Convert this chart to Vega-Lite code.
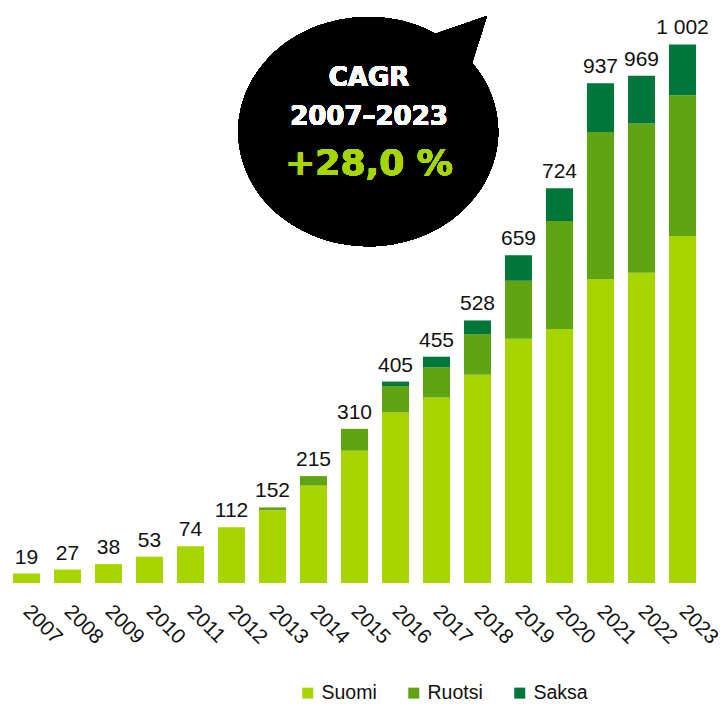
{
  "$schema": "https://vega.github.io/schema/vega-lite/v6.json",
  "autosize": "none",
  "width": 697,
  "height": 547,
  "padding": {"left": 6, "top": 36, "right": 22, "bottom": 121},
  "background": "white",
  "config": {
    "view": {"stroke": null},
    "font": "Liberation Sans"
  },
  "datasets": {
    "seriesOrder": [
      {"series": "Suomi", "rank": 1},
      {"series": "Ruotsi", "rank": 2},
      {"series": "Saksa", "rank": 3}
    ]
  },
  "data": {
    "values": [
      {"year": "2007", "series": "Suomi", "value": 19, "label": "19"},
      {"year": "2008", "series": "Suomi", "value": 27, "label": "27"},
      {"year": "2009", "series": "Suomi", "value": 38, "label": "38"},
      {"year": "2010", "series": "Suomi", "value": 53, "label": "53"},
      {"year": "2011", "series": "Suomi", "value": 74, "label": "74"},
      {"year": "2012", "series": "Suomi", "value": 112, "label": "112"},
      {"year": "2013", "series": "Suomi", "value": 146, "label": "152"},
      {"year": "2013", "series": "Ruotsi", "value": 6, "label": "152"},
      {"year": "2014", "series": "Suomi", "value": 196, "label": "215"},
      {"year": "2014", "series": "Ruotsi", "value": 19, "label": "215"},
      {"year": "2015", "series": "Suomi", "value": 266, "label": "310"},
      {"year": "2015", "series": "Ruotsi", "value": 44, "label": "310"},
      {"year": "2016", "series": "Suomi", "value": 343, "label": "405"},
      {"year": "2016", "series": "Ruotsi", "value": 53, "label": "405"},
      {"year": "2016", "series": "Saksa", "value": 9, "label": "405"},
      {"year": "2017", "series": "Suomi", "value": 373, "label": "455"},
      {"year": "2017", "series": "Ruotsi", "value": 61, "label": "455"},
      {"year": "2017", "series": "Saksa", "value": 21, "label": "455"},
      {"year": "2018", "series": "Suomi", "value": 419, "label": "528"},
      {"year": "2018", "series": "Ruotsi", "value": 81, "label": "528"},
      {"year": "2018", "series": "Saksa", "value": 28, "label": "528"},
      {"year": "2019", "series": "Suomi", "value": 491, "label": "659"},
      {"year": "2019", "series": "Ruotsi", "value": 117, "label": "659"},
      {"year": "2019", "series": "Saksa", "value": 51, "label": "659"},
      {"year": "2020", "series": "Suomi", "value": 511, "label": "724"},
      {"year": "2020", "series": "Ruotsi", "value": 217, "label": "724"},
      {"year": "2020", "series": "Saksa", "value": 66, "label": "724"},
      {"year": "2021", "series": "Suomi", "value": 611, "label": "937"},
      {"year": "2021", "series": "Ruotsi", "value": 296, "label": "937"},
      {"year": "2021", "series": "Saksa", "value": 98, "label": "937"},
      {"year": "2022", "series": "Suomi", "value": 624, "label": "969"},
      {"year": "2022", "series": "Ruotsi", "value": 300, "label": "969"},
      {"year": "2022", "series": "Saksa", "value": 96, "label": "969"},
      {"year": "2023", "series": "Suomi", "value": 698, "label": "1 002"},
      {"year": "2023", "series": "Ruotsi", "value": 283, "label": "1 002"},
      {"year": "2023", "series": "Saksa", "value": 102, "label": "1 002"}
    ]
  },
  "encoding": {
    "x": {
      "field": "year",
      "type": "nominal",
      "scale": {"paddingInner": 0.34, "paddingOuter": 0.17},
      "axis": {
        "title": null,
        "domain": false,
        "ticks": false,
        "labelAngle": 45,
        "labelAlign": "left",
        "labelBaseline": "top",
        "labelPadding": 18,
        "labelOffset": 7,
        "labelFontSize": 20.5,
        "labelColor": "#111111",
        "labelFont": "Liberation Sans"
      }
    }
  },
  "layer": [
    {
      "transform": [
        {"lookup": "series", "from": {"data": {"name": "seriesOrder"}, "key": "series", "fields": ["rank"]}}
      ],
      "mark": {"type": "bar"},
      "encoding": {
        "y": {
          "field": "value",
          "type": "quantitative",
          "stack": "zero",
          "scale": {"domain": [0, 1100], "nice": false},
          "axis": null
        },
        "order": {"field": "rank", "type": "quantitative", "sort": "ascending"},
        "color": {
          "field": "series",
          "type": "nominal",
          "sort": ["Suomi", "Ruotsi", "Saksa"],
          "scale": {
            "domain": ["Suomi", "Ruotsi", "Saksa"],
            "range": ["#a6d500", "#61a413", "#00773a"]
          },
          "legend": {
            "title": null,
            "orient": "none",
            "direction": "horizontal",
            "legendX": 292,
            "legendY": 647,
            "padding": 0,
            "symbolType": "square",
            "symbolSize": 121,
            "symbolStrokeWidth": 0,
            "symbolOpacity": 1,
            "labelFontSize": 19.5,
            "labelColor": "#111111",
            "labelOffset": 4,
            "columnPadding": 27
          }
        }
      }
    },
    {
      "transform": [
        {"aggregate": [{"op": "sum", "field": "value", "as": "top"}], "groupby": ["year", "label"]}
      ],
      "mark": {"type": "text", "baseline": "alphabetic", "dy": -10, "fontSize": 21, "color": "#111111"},
      "encoding": {
        "y": {"field": "top", "type": "quantitative"},
        "text": {"field": "label"}
      }
    },
    {
      "mark": {
        "type": "point",
        "filled": true,
        "color": "black",
        "opacity": 1,
        "strokeWidth": 0,
        "size": 67600,
        "shape": "M 0.624 -0.752 L 1.019 -0.888 L 0.904 -0.529 A 1 0.881 0 1 1 0.624 -0.752 Z"
      },
      "encoding": {
        "x": {"datum": "2015"},
        "y": {"datum": 908}
      }
    },
    {
      "mark": {"type": "text", "baseline": "alphabetic", "align": "center", "dx": 14.5, "font": "DejaVu Sans", "fontWeight": "bold", "fontSize": 26, "color": "white"},
      "encoding": {
        "x": {"datum": "2015"},
        "y": {"datum": 999},
        "text": {"value": "CAGR"}
      }
    },
    {
      "mark": {"type": "text", "baseline": "alphabetic", "align": "center", "dx": 14.5, "font": "DejaVu Sans", "fontWeight": "bold", "fontSize": 26, "color": "white"},
      "encoding": {
        "x": {"datum": "2015"},
        "y": {"datum": 921},
        "text": {"value": "2007–2023"}
      }
    },
    {
      "mark": {"type": "text", "baseline": "alphabetic", "align": "center", "dx": 14.5, "font": "DejaVu Sans", "fontWeight": "bold", "fontSize": 36, "color": "#a6d500"},
      "encoding": {
        "x": {"datum": "2015"},
        "y": {"datum": 820},
        "text": {"value": "+28,0 %"}
      }
    }
  ]
}
